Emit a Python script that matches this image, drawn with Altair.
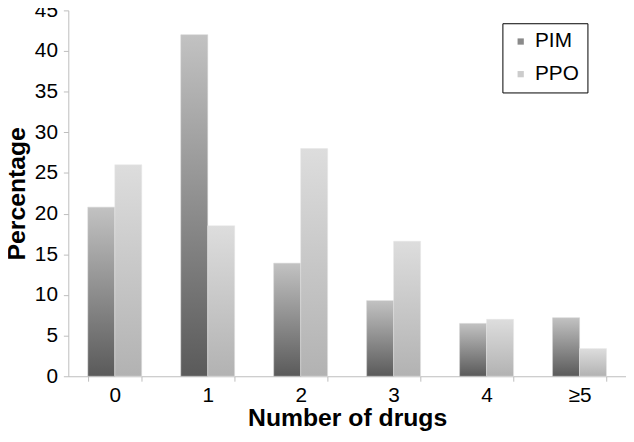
import altair as alt
import pandas as pd

categories = ["0", "1", "2", "3", "4", "≥5"]
pim = [20.8, 42.0, 13.9, 9.3, 6.5, 7.2]
ppo = [26.0, 18.5, 28.0, 16.6, 7.0, 3.4]
series = ["PIM", "PPO"]

rows = []
for c, a, b in zip(categories, pim, ppo):
    rows.append({"drugs": c, "series": "PIM", "value": a})
    rows.append({"drugs": c, "series": "PPO", "value": b})
df = pd.DataFrame(rows)

FONT = "Liberation Sans"

x_enc = alt.X("drugs:N", sort=categories,
              scale=alt.Scale(paddingInner=0.42, paddingOuter=0.21),
              axis=alt.Axis(title="Number of drugs", labelAngle=0, tickBand="extent",
                            labelFontSize=21, labelPadding=4, titleFontSize=25,
                            titleFontWeight="bold", titlePadding=0, tickSize=5))
y_enc = alt.Y("value:Q", scale=alt.Scale(domain=[0, 45], nice=False),
              axis=alt.Axis(title="Percentage", values=list(range(0, 50, 5)),
                            labelFontSize=21, labelPadding=6, tickSize=5,
                            titleFontSize=25, titleFontWeight="bold", titlePadding=5,
                            grid=False))
xo = alt.XOffset("series:N", scale=alt.Scale(domain=series, paddingInner=0, paddingOuter=0))

grad_pim = alt.Gradient(gradient="linear", x1=0, y1=1, x2=0, y2=0,
                        stops=[alt.GradientStop(color="#5a5a5a", offset=0),
                               alt.GradientStop(color="#c2c2c2", offset=1)])
grad_ppo = alt.Gradient(gradient="linear", x1=0, y1=1, x2=0, y2=0,
                        stops=[alt.GradientStop(color="#b2b2b2", offset=0),
                               alt.GradientStop(color="#dddddd", offset=1)])

base = alt.Chart(df)
bars_pim = base.transform_filter(alt.datum.series == "PIM").mark_bar(
    fill=grad_pim, stroke="#d0d0d0", strokeWidth=0.5).encode(x=x_enc, y=y_enc, xOffset=xo)
bars_ppo = base.transform_filter(alt.datum.series == "PPO").mark_bar(
    fill=grad_ppo, stroke="#e6e6e6", strokeWidth=0.5).encode(x=x_enc, y=y_enc, xOffset=xo)
legend_layer = base.mark_bar(opacity=0).encode(
    x=x_enc, y=y_enc, xOffset=xo,
    color=alt.Color("series:N", scale=alt.Scale(domain=series, range=["#8a8a8a", "#cccccc"]),
                    legend=alt.Legend(title=None, orient="none", legendX=439, legendY=13,
                                      symbolType="square", symbolSize=40, symbolOpacity=1,
                                      symbolStrokeWidth=0,
                                      labelFontSize=21, labelOffset=4, rowPadding=11,
                                      padding=8, strokeColor="black", fillColor="white")))

chart = alt.layer(bars_pim, bars_ppo, legend_layer).properties(
    width=564, height=370,
    autosize=alt.AutoSizeParams(type="none"),
    padding={"left": 61, "top": 0, "right": 0, "bottom": 56},
).configure_view(stroke=None).configure_axis(
    domainColor="#bdbdbd", tickColor="#bdbdbd", labelColor="black", titleColor="black",
    labelFont=FONT, titleFont=FONT,
).configure_legend(labelFont=FONT, labelColor="black")

chart.save("out.html", embed_options={"renderer": "svg", "actions": False})
